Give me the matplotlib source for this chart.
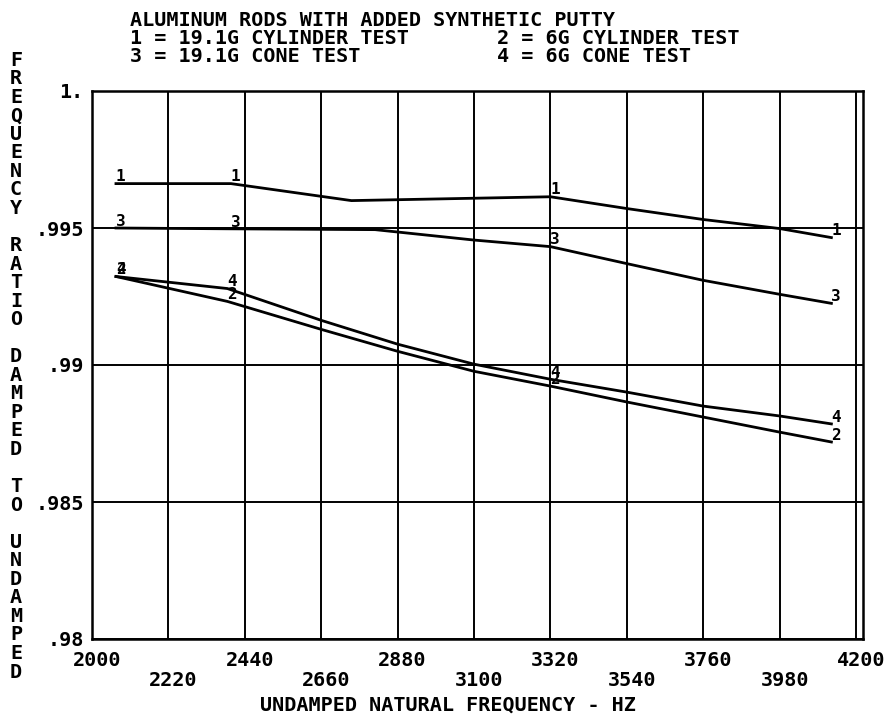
import matplotlib
matplotlib.use('Agg')
import matplotlib.pyplot as plt
import matplotlib.transforms as mtransforms

# ---- text ----
title = "ALUMINUM RODS WITH ADDED SYNTHETIC PUTTY"
legend_left = ["1 = 19.1G CYLINDER TEST", "3 = 19.1G CONE TEST"]
legend_right = ["2 = 6G CYLINDER TEST", "4 = 6G CONE TEST"]
xlabel = "UNDAMPED NATURAL FREQUENCY - HZ"
ylabel = "FREQUENCY RATIO DAMPED TO UNDAMPED"

# ---- ticks ----
x_ticks_row1 = [2000, 2440, 2880, 3320, 3760, 4200]
x_ticks_row2 = [2220, 2660, 3100, 3540, 3980]
y_ticks = [0.98, 0.985, 0.99, 0.995, 1.0]
y_tick_labels = ['.98', '.985', '.99', '.995', '1.']

# ---- data ----
s1_f = [2069, 2400, 2747, 3320, 3540, 3760, 3980, 4129]
s1_r = [0.99662, 0.99662, 0.99600, 0.99614, 0.99571, 0.99531, 0.99498, 0.99465]
s1_marks = [2069, 2400, 3320, 4129]

s3_f = [2069, 2400, 2815, 3100, 3320, 3540, 3760, 3980, 4129]
s3_r = [0.99500, 0.99497, 0.99494, 0.99456, 0.99432, 0.99370, 0.99309, 0.99258, 0.99225]
s3_marks = [2069, 2400, 3320, 4129]

s2_f = [2069, 2390, 2660, 2880, 3100, 3320, 3540, 3760, 3980, 4129]
s2_r = [0.99323, 0.99232, 0.99130, 0.99050, 0.98977, 0.98923, 0.98865, 0.98810, 0.98755, 0.98719]
s2_marks = [2069, 2390, 3320, 4129]

s4_f = [2069, 2390, 2660, 2880, 3100, 3320, 3540, 3760, 3980, 4129]
s4_r = [0.99323, 0.99279, 0.99163, 0.99076, 0.99003, 0.98948, 0.98901, 0.98850, 0.98814, 0.98785]
s4_marks = [2069, 2390, 3320, 4129]

series = [("1", s1_f, s1_r, s1_marks), ("3", s3_f, s3_r, s3_marks),
          ("2", s2_f, s2_r, s2_marks), ("4", s4_f, s4_r, s4_marks)]

FONT = 'DejaVu Sans Mono'
W, H = 895, 721
fig = plt.figure(figsize=(W / 100, H / 100), dpi=100)
fig.patch.set_facecolor('white')

L, R, T, B = 92, 863, 91, 639
ax = fig.add_axes([L / W, 1 - B / H, (R - L) / W, (B - T) / H])
ax.set_xlim(2000, 4220)
ax.set_ylim(0.98, 1.0)

for name, f, r, marks in series:
    ax.plot(f, r, color='black', lw=2.0, solid_joinstyle='round', zorder=3)
    for m in marks:
        i = f.index(m)
        ax.annotate(name, (f[i], r[i]), xytext=(0, -0.5), textcoords='offset points',
                    ha='left', va='bottom', fontsize=11.5, fontweight='bold',
                    family=FONT, color='black', zorder=4)

# ticks & grid
ax.set_xticks(x_ticks_row1)
ax.set_xticklabels([str(v) for v in x_ticks_row1])
ax.set_xticks(x_ticks_row2, minor=True)
ax.set_xticklabels([str(v) for v in x_ticks_row2], minor=True)
ax.set_yticks(y_ticks)
ax.set_yticklabels(y_tick_labels)
ax.tick_params(axis='x', which='major', length=0, pad=9, labelsize=14.5)
ax.tick_params(axis='x', which='minor', length=0, pad=23, labelsize=14.5)
ax.tick_params(axis='y', which='both', length=0, pad=6, labelsize=14.5)
for lab in ax.get_xticklabels(which='both') + ax.get_yticklabels():
    lab.set_fontfamily(FONT)
    lab.set_fontweight('bold')
offset = mtransforms.ScaledTranslation(5 / 100, 0, fig.dpi_scale_trans)
for lab in ax.get_xticklabels(which='both'):
    lab.set_transform(lab.get_transform() + offset)

ax.grid(True, which='both', color='black', lw=1.4, zorder=1)
for sp in ax.spines.values():
    sp.set_linewidth(1.8)
    sp.set_color('black')

# titles
def px(x, y):
    return x / W, 1 - y / H

tk = dict(family=FONT, fontweight='bold', fontsize=14.5, color='black', va='center')
fig.text(*px(130, 21), title, ha='left', **tk)
fig.text(*px(130, 38), legend_left[0], ha='left', **tk)
fig.text(*px(130, 56), legend_left[1], ha='left', **tk)
fig.text(*px(497, 38), legend_right[0], ha='left', **tk)
fig.text(*px(497, 56), legend_right[1], ha='left', **tk)

fig.text(*px(448, 705), xlabel, ha='center', **tk)

step = (672 - 60) / (len(ylabel) - 1)
for i, ch in enumerate(ylabel):
    if ch != ' ':
        fig.text(*px(16, 60 + i * step), ch, ha='center', **tk)

fig.savefig('out.png', dpi=100, facecolor='white')
